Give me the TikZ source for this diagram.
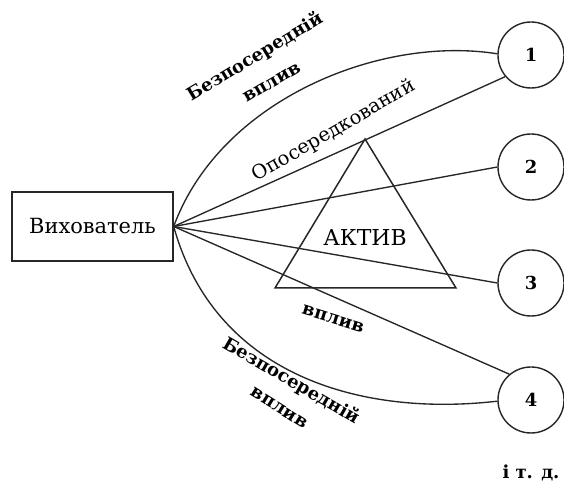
\documentclass[tikz,border=0pt]{standalone}
\usepackage{fontspec}
\setmainfont{DejaVu Serif}
\begin{document}
\begin{tikzpicture}[x=1bp,y=1bp,
  ln/.style={line width=1.35bp, draw=black!85},
  circ/.style={circle, draw=black!85, line width=1.4bp, minimum size=66bp, inner sep=0pt, font=\fontsize{18}{20}\selectfont\bfseries},
  boxn/.style={draw=black!85, line width=1.4bp, minimum width=161bp, minimum height=69bp, inner sep=0pt, font=\fontsize{21}{24}\selectfont},
  lblb/.style={font=\fontsize{18}{20}\selectfont\bfseries, inner sep=0pt},
  lblr/.style={font=\fontsize{19.5}{22}\selectfont, inner sep=0pt}
]
\useasboundingbox (0,0) rectangle (564,495);
\node[boxn] (box) at (92.5,268.5) {Вихователь};
\node[circ] (c1) at (531,440) {1};
\node[circ] (c2) at (531,328) {2};
\node[circ] (c3) at (531,212) {3};
\node[circ] (c4) at (531,95) {4};
\coordinate (ta) at (365,356);
\coordinate (tl) at (275,207);
\coordinate (tr) at (456,207);
\draw[ln, line width=1.5bp, line join=miter] (ta) -- (tl) -- (tr) -- cycle;
\node[lblr, font=\fontsize{22}{24}\selectfont] (aktiv) at (365,257) {АКТИВ};
\draw[ln] (box.east) .. controls (220,395) and (380,460) .. (c1.178);
\draw[ln] (box.east) -- (c1.220);
\draw[ln] (box.east) -- (c2.west);
\draw[ln] (box.east) -- (c3.west);
\draw[ln] (box.east) -- (c4.130);
\draw[ln] (box.east) .. controls (215,120) and (360,78) .. (c4.182);
\node[lblb, rotate=31] (b1) at (255,438) {Безпосередній};
\node[lblb, rotate=30] (v1) at (272,412) {вплив};
\node[lblr, rotate=30] (op) at (334,364) {Опосередкований};
\node[lblb, rotate=-17] (v2) at (333,176) {вплив};
\node[lblb, rotate=-30] (b2) at (291,114) {Безпосередній};
\node[lblb, rotate=-32] (v3) at (279,87) {вплив};
\node[lblr, font=\fontsize{18}{20}\selectfont\bfseries] (etc) at (531,22) {і т. д.};
\end{tikzpicture}
\end{document}
